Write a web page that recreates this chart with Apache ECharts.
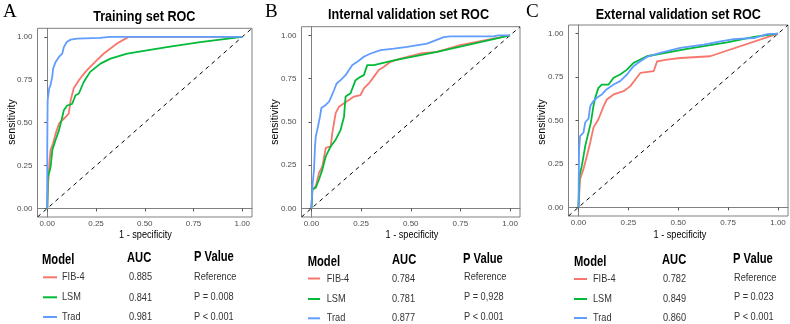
<!DOCTYPE html>
<html><head><meta charset="utf-8">
<script src="https://cdn.jsdelivr.net/npm/echarts@6/dist/echarts.min.js"></script>
<style>html,body{margin:0;padding:0;background:#fff}#c{width:790px;height:324px}</style>
</head><body><div id="c"></div>
<script>
// ---- data ----
const panelTitles = ['Training set ROC', 'Internal validation set ROC', 'External validation set ROC'];
const panelLetters = ['A', 'B', 'C'];
const models = ['FIB-4', 'LSM', 'Trad'];
const tickValues = [0, 0.25, 0.5, 0.75, 1];
const xTitle = '1 - specificity';
const yTitle = 'sensitivity';
const headers = ['Model', 'AUC', 'P Value'];

const aucTrain = ['0.885', '0.841', '0.981'];
const pTrain = ['Reference', 'P = 0.008', 'P < 0.001'];
const aucInternal = ['0.784', '0.781', '0.877'];
const pInternal = ['Reference', 'P = 0,928', 'P < 0.001'];
const aucExternal = ['0.782', '0.849', '0.860'];
const pExternal = ['Reference', 'P = 0.023', 'P < 0.001'];

// ROC curves: [1 - specificity, sensitivity]
const trainFIB4 = [[0,0],[0.005,0.15],[0.012,0.28],[0.017,0.34],[0.03,0.38],[0.043,0.436],[0.06,0.494],[0.077,0.514],[0.094,0.533],[0.11,0.553],[0.12,0.63],[0.136,0.70],[0.162,0.747],[0.196,0.796],[0.22,0.825],[0.255,0.864],[0.29,0.903],[0.324,0.932],[0.358,0.961],[0.392,0.984],[0.417,1.0],[1,1]];
const trainLSM = [[0,0],[0.003,0.18],[0.017,0.24],[0.026,0.34],[0.043,0.40],[0.06,0.455],[0.077,0.533],[0.085,0.572],[0.102,0.60],[0.128,0.61],[0.145,0.66],[0.162,0.67],[0.187,0.737],[0.22,0.796],[0.273,0.844],[0.324,0.873],[0.41,0.903],[0.613,0.94],[0.784,0.97],[1,1]];
const trainTrad = [[0,0],[0,0.35],[0.002,0.63],[0.01,0.70],[0.017,0.72],[0.026,0.77],[0.03,0.815],[0.043,0.854],[0.06,0.883],[0.077,0.903],[0.085,0.94],[0.10,0.97],[0.12,0.984],[0.153,0.99],[0.27,0.994],[0.32,1.0],[1,1]];

const intFIB4 = [[0,0],[0.005,0.109],[0.022,0.128],[0.038,0.205],[0.055,0.243],[0.072,0.349],[0.097,0.358],[0.105,0.435],[0.122,0.55],[0.139,0.588],[0.164,0.607],[0.189,0.626],[0.214,0.646],[0.247,0.655],[0.264,0.693],[0.289,0.722],[0.314,0.76],[0.339,0.8],[0.365,0.818],[0.398,0.847],[0.448,0.866],[0.548,0.895],[0.632,0.904],[0.749,0.943],[1,1]];
const intLSM = [[0,0],[0.005,0.109],[0.022,0.119],[0.038,0.167],[0.055,0.224],[0.072,0.3],[0.097,0.358],[0.122,0.397],[0.147,0.454],[0.164,0.53],[0.172,0.646],[0.197,0.665],[0.222,0.741],[0.247,0.76],[0.264,0.77],[0.281,0.828],[0.314,0.828],[0.415,0.856],[0.632,0.904],[1,1]];
const intTrad = [[0,0],[0.005,0.128],[0.013,0.224],[0.018,0.358],[0.022,0.416],[0.033,0.473],[0.043,0.53],[0.05,0.58],[0.072,0.598],[0.089,0.617],[0.1,0.646],[0.114,0.684],[0.127,0.722],[0.147,0.741],[0.172,0.77],[0.189,0.8],[0.206,0.828],[0.231,0.847],[0.264,0.876],[0.298,0.895],[0.348,0.914],[0.415,0.923],[0.482,0.933],[0.582,0.952],[0.666,0.99],[0.7,0.994],[0.916,0.994],[0.94,1.0],[1,1]];

const extFIB4 = [[0,0],[0.008,0.163],[0.025,0.22],[0.042,0.296],[0.059,0.373],[0.075,0.459],[0.1,0.507],[0.126,0.583],[0.142,0.621],[0.176,0.65],[0.226,0.669],[0.26,0.698],[0.285,0.736],[0.31,0.774],[0.377,0.784],[0.394,0.841],[0.444,0.851],[0.511,0.86],[0.66,0.87],[1,1]];
const extLSM = [[0,0],[0.005,0.18],[0.017,0.24],[0.034,0.354],[0.05,0.43],[0.062,0.488],[0.075,0.583],[0.084,0.631],[0.1,0.688],[0.117,0.707],[0.151,0.707],[0.176,0.746],[0.209,0.765],[0.243,0.793],[0.276,0.832],[0.31,0.851],[0.343,0.87],[0.544,0.912],[0.745,0.95],[0.879,0.981],[1,1]];
const extTrad = [[0,0],[0.003,0.335],[0.008,0.41],[0.025,0.43],[0.034,0.49],[0.05,0.51],[0.059,0.583],[0.075,0.612],[0.092,0.631],[0.117,0.65],[0.142,0.68],[0.176,0.707],[0.209,0.727],[0.243,0.765],[0.276,0.813],[0.31,0.841],[0.343,0.866],[0.41,0.889],[0.51,0.918],[0.628,0.937],[0.712,0.956],[0.779,0.969],[0.879,0.975],[0.946,0.998],[1,1]];

// ---- assembly ----
const curves = [[trainFIB4, trainLSM, trainTrad], [intFIB4, intLSM, intTrad], [extFIB4, extLSM, extTrad]];
const aucs = [aucTrain, aucInternal, aucExternal];
const pvals = [pTrain, pInternal, pExternal];
const colors = ['#F8766D', '#00BA38', '#619CFF'];
const FONT = '"Liberation Sans", Arial, sans-serif';

const layout = [
  {grid: {left: 37.5, top: 28.3, width: 214.5, height: 188.7}, title: [144.3, 16.7], letter: [3, 12], ytitle: [11.7, 122], xtitle: [145.5, 235.5],
   table: {model: [42, 260.5], auc: [127, 258], p: [194, 257.5], lineX: [43, 57], nameX: 62, aucX: 129, pX: 194, rowsM: [277.3, 297.3, 317], rowsA: [277.3, 298, 317.3], rowsP: [277.3, 297.3, 316.7]}},
  {grid: {left: 301.5, top: 26.7, width: 218.5, height: 190.3}, title: [408.5, 15], letter: [265, 12], ytitle: [275, 122], xtitle: [412, 235.5],
   table: {model: [307.7, 261.7], auc: [392, 260], p: [463, 259], lineX: [308, 320], nameX: 326.7, aucX: 392, pX: 464, rowsM: [278.5, 299, 318.3], rowsA: [278.5, 298.5, 318.3], rowsP: [276.7, 297.3, 316.7]}},
  {grid: {left: 568.5, top: 25, width: 219.5, height: 191}, title: [678.3, 15], letter: [526, 12], ytitle: [541.7, 122], xtitle: [680, 235.5],
   table: {model: [574, 261.7], auc: [662, 260], p: [733, 259.3], lineX: [574, 587], nameX: 593, aucX: 663, pX: 734, rowsM: [279, 299, 318], rowsA: [279, 299, 318], rowsP: [277.7, 297.3, 317.3]}}
];

const grids = [], xAxes = [], yAxes = [], series = [], graphics = [];
function txt(x, y, text, size, weight, opts) {
  opts = opts || {};
  return {type: 'text', x: x, y: y, scaleX: opts.sx || 1, rotation: opts.rot || 0, silent: true,
    style: {text: text, fontSize: size, fontWeight: weight, fontFamily: opts.family || FONT,
      fill: opts.fill || '#000', align: opts.align || 'left', verticalAlign: 'middle'}};
}

layout.forEach((L, i) => {
  grids.push(Object.assign({show: true, borderColor: '#808080', borderWidth: 1, backgroundColor: '#fff'}, L.grid));
  const axisCommon = {
    type: 'value', min: -0.05, max: 1.05, gridIndex: i,
    splitLine: {show: false},
    axisLine: {show: true, lineStyle: {color: '#808080', width: 1}},
    axisTick: {show: true, length: 3, customValues: tickValues, lineStyle: {color: '#555'}},
    axisLabel: {customValues: tickValues, formatter: v => v.toFixed(2), fontSize: 8, color: '#4d4d4d', fontFamily: FONT}
  };
  xAxes.push(Object.assign({}, axisCommon, {axisLabel: Object.assign({}, axisCommon.axisLabel, {margin: 3})}));
  yAxes.push(Object.assign({}, axisCommon, {axisLabel: Object.assign({}, axisCommon.axisLabel, {margin: 5})}));

  series.push({type: 'line', xAxisIndex: i, yAxisIndex: i, data: [[-0.05, -0.05], [1.05, 1.05]], symbol: 'none',
    lineStyle: {color: '#000', width: 1, type: [4, 4]}, silent: true, z: 1});
  curves[i].forEach((c, k) => {
    series.push({type: 'line', name: models[k], xAxisIndex: i, yAxisIndex: i, data: c, symbol: 'none',
      lineStyle: {color: colors[k], width: 1.8}, silent: true, z: 2 + k});
  });

  graphics.push(txt(L.letter[0], L.letter[1], panelLetters[i], 19, 'normal', {family: '"Liberation Serif", "Times New Roman", serif'}));
  graphics.push(txt(L.title[0], L.title[1], panelTitles[i], 14, 'bold', {align: 'center', sx: 0.9}));
  graphics.push(txt(L.ytitle[0], L.ytitle[1], yTitle, 10.5, 'normal', {align: 'center', rot: Math.PI / 2}));
  graphics.push(txt(L.xtitle[0], L.xtitle[1], xTitle, 10.5, 'normal', {align: 'center', sx: 0.87}));

  const T = L.table;
  graphics.push(txt(T.model[0], T.model[1], headers[0], 14, 'bold', {sx: 0.8}));
  graphics.push(txt(T.auc[0], T.auc[1], headers[1], 14, 'bold', {sx: 0.8}));
  graphics.push(txt(T.p[0], T.p[1], headers[2], 14, 'bold', {sx: 0.8}));
  models.forEach((m, k) => {
    graphics.push({type: 'line', silent: true, shape: {x1: T.lineX[0], y1: T.rowsM[k], x2: T.lineX[1], y2: T.rowsM[k]},
      style: {stroke: colors[k], lineWidth: 2}});
    graphics.push(txt(T.nameX, T.rowsM[k], m, 11.5, 'normal', {sx: 0.8, fill: '#333'}));
    graphics.push(txt(T.aucX, T.rowsA[k], aucs[i][k], 11.5, 'normal', {sx: 0.8, fill: '#333'}));
    graphics.push(txt(T.pX, T.rowsP[k], pvals[i][k], 11.5, 'normal', {sx: 0.8, fill: '#333'}));
  });
});

const chart = echarts.init(document.getElementById('c'), null, {renderer: 'canvas'});
chart.setOption({
  animation: false,
  backgroundColor: '#fff',
  grid: grids, xAxis: xAxes, yAxis: yAxes, series: series,
  graphic: {elements: graphics}
});
</script></body></html>
